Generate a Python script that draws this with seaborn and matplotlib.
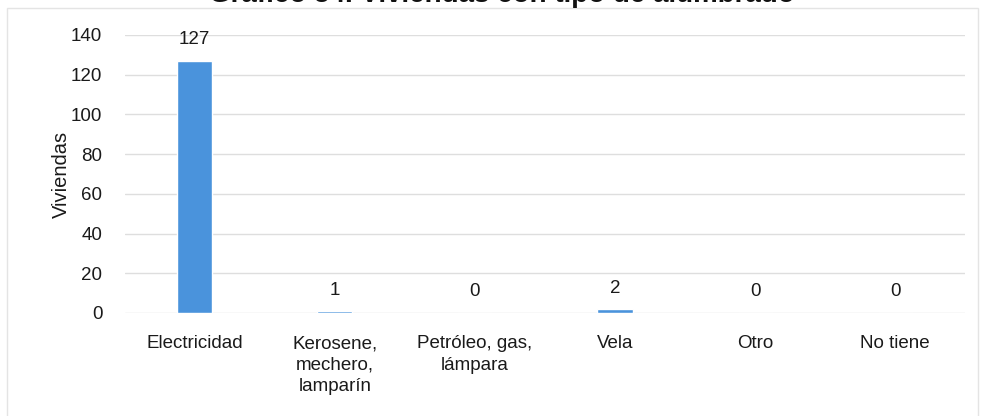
import matplotlib
matplotlib.use("Agg")
import matplotlib.pyplot as plt
from matplotlib import font_manager
import seaborn as sns
import pandas as pd

categorias = ["Electricidad", "Kerosene,\nmechero,\nlamparín", "Petróleo, gas,\nlámpara",
              "Vela", "Otro", "No tiene"]
viviendas = [127, 1, 0, 2, 0, 0]
yticks = [0, 20, 40, 60, 80, 100, 120, 140]

sns.set_theme(style="white")
names = {f.name for f in font_manager.fontManager.ttflist}
fam = ["Liberation Sans Narrow"] if "Liberation Sans Narrow" in names else []
plt.rcParams["font.family"] = fam + ["Liberation Sans", "DejaVu Sans"]

df = pd.DataFrame({"cat": categorias, "val": viviendas})

fig = plt.figure(figsize=(9.81, 4.16), dpi=100)
ax = fig.add_axes([0.127, 0.2476, 0.857, 0.6684])
sns.barplot(data=df, x="cat", y="val", color="#4a93dc", saturation=1, width=0.25, ax=ax)

ax.set_ylim(0, 140)
ax.set_yticks(yticks)
ax.set_yticklabels([str(t) for t in yticks], fontsize=13.5, color="#1a1a1a")
ax.tick_params(axis="x", labelsize=13.5, colors="#1a1a1a", length=0, pad=16)
ax.tick_params(axis="y", length=0, pad=16)
for lbl in ax.get_xticklabels():
    lbl.set_linespacing(1.35)
ax.yaxis.grid(True, color="#dedede", linewidth=1)
ax.set_axisbelow(True)
for s in ax.spines.values():
    s.set_visible(False)
ax.set_xlabel("")
ax.set_ylabel("Viviendas", fontsize=14.5, color="#1a1a1a", labelpad=0)

for c in ax.containers:
    ax.bar_label(c, labels=[str(v) for v in viviendas], padding=9, fontsize=13.5, color="#1a1a1a")

fig.text(0.512, 1 - 2 / 416, "Gráfico 54. Viviendas con tipo de alumbrado", ha="center",
         va="baseline", fontsize=20, fontweight="bold", color="#111111",
         family=["Liberation Sans", "DejaVu Sans"])

# light frame around the chart area
frame = plt.Rectangle((0.007, -0.01), 0.99, 0.99, transform=fig.transFigure, fill=False,
                      edgecolor="#e4e4e4", linewidth=1)
fig.add_artist(frame)

fig.savefig("out.png", dpi=100)
